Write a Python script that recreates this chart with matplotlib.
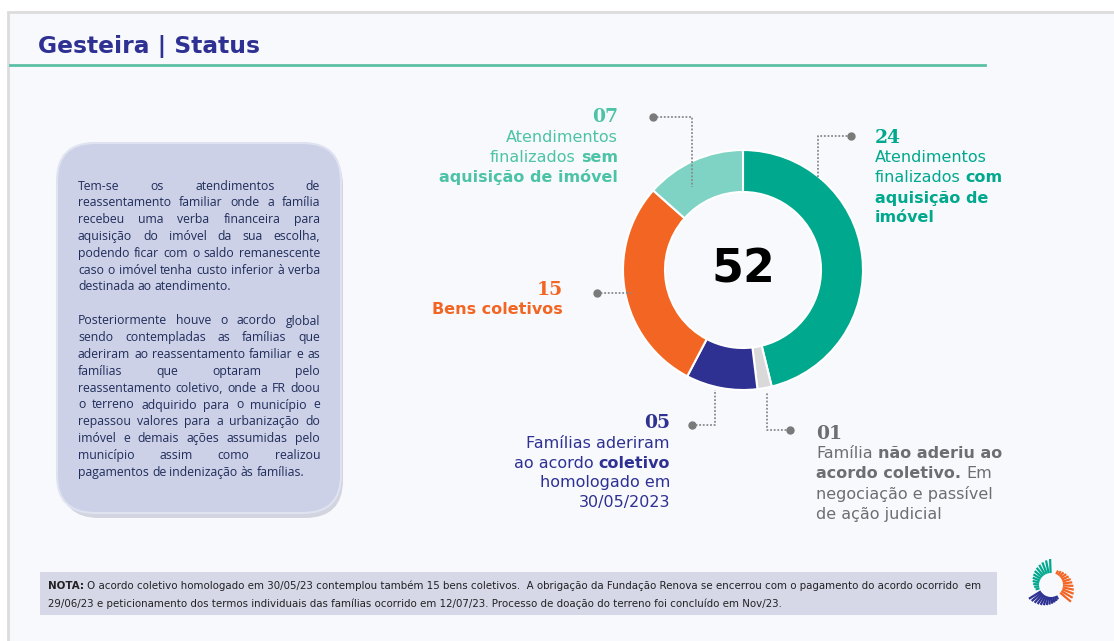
import numpy as np
import matplotlib.pyplot as plt
from matplotlib.patches import FancyBboxPatch, Rectangle

# dados ______________________________________________________________________________________________________________
valores = [24, 1, 5, 15, 7]
cores = ['#00a88e', '#d9d9d9', '#2e3192', '#f26522', '#7fd3c4']
cores_txt = ['#00a88e', '#6d6e71', '#2e3192', '#f26522', '#4cc3a7']

# cada rotulo: lista de linhas, cada linha = lista de (texto, negrito)
rotulos = [
    [[('Atendimentos', False)], [('finalizados', False), ('com', True)],
     [('aquisição de', True)], [('imóvel', True)]],
    [[('Família', False), ('não aderiu ao', True)], [('acordo coletivo.', True), ('Em', False)],
     [('negociação e passível', False)], [('de ação judicial', False)]],
    [[('Famílias aderiram', False)], [('ao acordo', False), ('coletivo', True)],
     [('homologado em', False)], [('30/05/2023', False)]],
    [[('Bens coletivos', True)]],
    [[('Atendimentos', False)], [('finalizados', False), ('sem', True)],
     [('aquisição de imóvel', True)]],
]

titulo = 'Gesteira | Status'

paragrafo1 = ['Tem-se os atendimentos de',
              'reassentamento familiar onde a família',
              'recebeu uma verba financeira para',
              'aquisição do imóvel da sua escolha,',
              'podendo ficar com o saldo remanescente',
              'caso o imóvel tenha custo inferior à verba',
              'destinada ao atendimento.']
paragrafo2 = ['Posteriormente houve o acordo global',
              'sendo contempladas as famílias que',
              'aderiram ao reassentamento familiar e as',
              'famílias que optaram pelo',
              'reassentamento coletivo, onde a FR doou',
              'o terreno adquirido para o município e',
              'repassou valores para a urbanização do',
              'imóvel e demais ações assumidas pelo',
              'município assim como realizou',
              'pagamentos de indenização às famílias.']

nota1 = 'O acordo coletivo homologado em 30/05/23 contemplou também 15 bens coletivos.  A obrigação da Fundação Renova se encerrou com o pagamento do acordo ocorrido  em'
nota2 = '29/06/23 e peticionamento dos termos individuais das famílias ocorrido em 12/07/23. Processo de doação do terreno foi concluído em Nov/23.'

# layout (pixels) ____________________________________________________________________________________________________
W, H = 1114, 641
cx, cy, R = 743, 270, 120

# posicao do texto de cada rotulo (x, y do numero, alinhamento)
pos_rot = [(875, 138, 'left'), (816, 434, 'left'), (670, 423, 'right'),
           (563, 290, 'right'), (618, 117, 'right')]
# linhas de chamada: pontos (x, y), o primeiro recebe o marcador
chamadas = [[(851, 136), (818, 136), (818, 178)],
            [(790, 430), (767, 430), (767, 393)],
            [(692, 425), (715, 425), (715, 390)],
            [(597, 293), (632, 293)],
            [(653, 117), (692, 117), (692, 187)]]

fig = plt.figure(figsize=(W / 100, H / 100), dpi=100, facecolor='white')
bg = fig.add_axes([0, 0, 1, 1], zorder=0)
bg.set_xlim(0, W)
bg.set_ylim(H, 0)
bg.axis('off')
top = fig.add_axes([0, 0, 1, 1], zorder=2)
top.set_xlim(0, W)
top.set_ylim(H, 0)
top.axis('off')
top.patch.set_alpha(0)

r = fig.canvas.get_renderer()


def largura(ax, s, **kw):
    t = ax.text(0, 0, s, **kw)
    w = t.get_window_extent(r).width
    t.remove()
    return w


def linha_rica(ax, x, y, partes, ha, cor, size, family='DejaVu Sans'):
    esp = largura(ax, 'x x', fontsize=size, family=family) - largura(ax, 'xx', fontsize=size, family=family)
    arts, ws = [], []
    for s, b in partes:
        t = ax.text(0, y, s, fontsize=size, family=family, fontweight='bold' if b else 'normal',
                    color=cor, va='center', ha='left')
        arts.append(t)
        ws.append(t.get_window_extent(r).width)
    total = sum(ws) + esp * (len(ws) - 1)
    x0 = x - total if ha == 'right' else x
    for t, w in zip(arts, ws):
        t.set_x(x0)
        x0 += w + esp


# slide ______________________________________________________________________________________________________________
bg.add_patch(Rectangle((8, 12), W, H, facecolor='#f8f9fd', edgecolor='#dcdcdc', lw=2))
bg.plot([10, 985], [65, 65], color='#5bbfa6', lw=2)
bg.text(38, 47, titulo, fontsize=16.8, fontweight='bold', color='#2e3192', va='center', ha='left')

# caixa da esquerda
bg.add_patch(FancyBboxPatch((61, 148), 282, 370, boxstyle='round,pad=0,rounding_size=38',
                            facecolor='#b9bccb', edgecolor='none', alpha=0.6))
bg.add_patch(FancyBboxPatch((57, 143), 284, 370, boxstyle='round,pad=0,rounding_size=38',
                            facecolor='#cdd1e7', edgecolor='#dfe2f0', lw=1.5))

fam_box = 'Open Sans'
fs_box = 8.8
cor_box = '#1f2d5a'


def justifica(linhas, y0, x0=78, x1=320, dy=16.8):
    esp = largura(bg, 'x x', fontsize=fs_box, family=fam_box) - largura(bg, 'xx', fontsize=fs_box, family=fam_box)
    for i, ln in enumerate(linhas):
        y = y0 + i * dy
        palavras = ln.split(' ')
        ws = [largura(bg, p, fontsize=fs_box, family=fam_box) for p in palavras]
        ultima = i == len(linhas) - 1
        if ultima or len(palavras) == 1:
            gap = esp
        else:
            gap = (x1 - x0 - sum(ws)) / (len(palavras) - 1)
        x = x0
        for p, w in zip(palavras, ws):
            bg.text(x, y, p, fontsize=fs_box, family=fam_box, color=cor_box, va='center', ha='left')
            x += w + gap


justifica(paragrafo1, 186)
justifica(paragrafo2, 321)

# nota
bg.add_patch(Rectangle((40, 572), 957, 43, facecolor='#d6d8e8', edgecolor='none'))
fam_nota = ['Liberation Sans Narrow', 'DejaVu Sans']
linha_rica(bg, 48, 586, [('NOTA:', True), (nota1, False)], 'left', '#222222', 7.35, family=fam_nota)
bg.text(48, 604, nota2, fontsize=7.35, family=fam_nota, color='#222222', va='center', ha='left')

# logo
lx, ly = 1051, 585
for a0, a1, cor, cresce in [(92, 196, '#00a88e', False), (64, -40, '#f26522', True),
                            (212, 296, '#2e3192', False)]:
    angs = np.linspace(a0, a1, 12)
    for k, a in enumerate(angs):
        t = np.deg2rad(a)
        r_in = 12
        f = k / 11 if cresce else 1 - k / 11
        r_out = 16 + 10 * f
        bg.plot([lx + r_in * np.cos(t), lx + r_out * np.cos(t)],
                [ly - r_in * np.sin(t), ly - r_out * np.sin(t)], color=cor, lw=1.6, solid_capstyle='butt')

# rosca ______________________________________________________________________________________________________________
pie_ax = fig.add_axes([(cx - R) / W, (H - cy - R) / H, 2 * R / W, 2 * R / H], zorder=1)
pie_ax.pie(valores, colors=cores, startangle=90, counterclock=False, radius=1,
           wedgeprops=dict(width=0.35, edgecolor='white', linewidth=1.5))
pie_ax.set_xlim(-1, 1)
pie_ax.set_ylim(-1, 1)
pie_ax.axis('off')
pie_ax.text(0, 0, f'{sum(valores)}', fontsize=33, fontweight='bold', color='black', ha='center', va='center')

# rotulos e chamadas _________________________________________________________________________________________________
for v, cor, linhas, (x, y, ha), pts in zip(valores, cores_txt, rotulos, pos_rot, chamadas):
    top.text(x, y, f'{v:02d}', fontsize=13.5, fontweight='bold', family='DejaVu Serif',
             color=cor, ha=ha, va='center')
    for j, ln in enumerate(linhas):
        linha_rica(top, x, y + 20 * (j + 1), ln, ha, cor, 11.5)
    xs, ys = zip(*pts)
    top.plot(xs, ys, color='#8a8a8a', lw=1.3, ls=(0, (1, 1)))
    top.plot(xs[0], ys[0], 'o', color='#7a7a7a', ms=5)

fig.savefig('out.png', dpi=100, facecolor='white')
